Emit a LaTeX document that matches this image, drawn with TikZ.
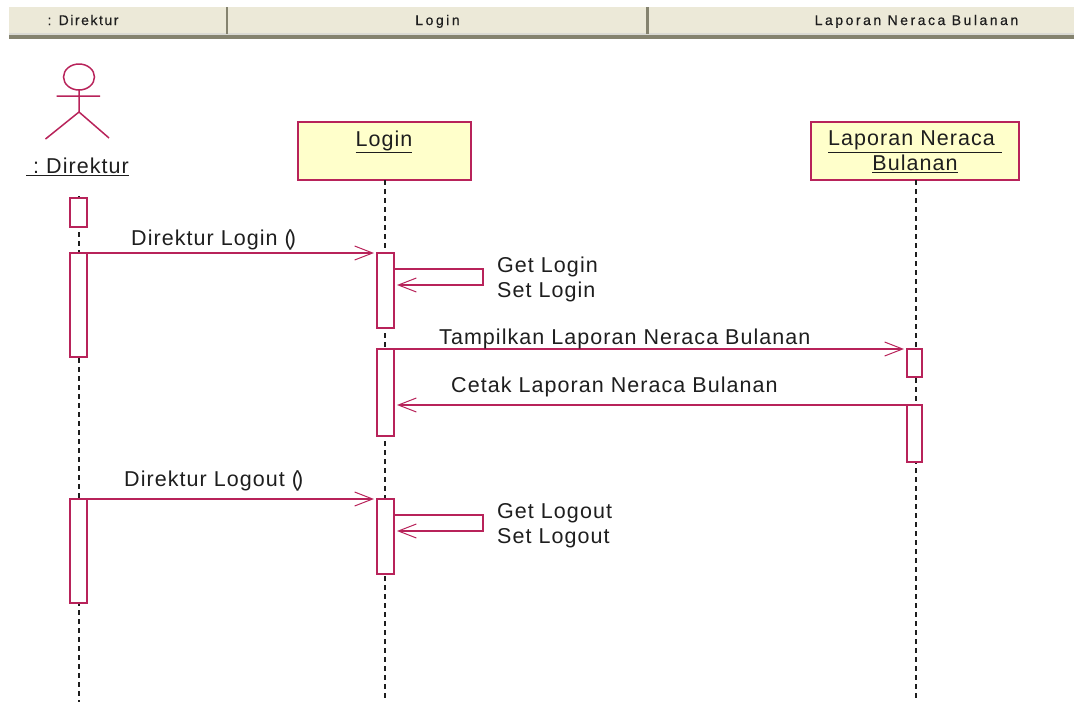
\documentclass[tikz,border=0pt]{standalone}
\usepackage{fontspec}
\setmainfont{Liberation Sans}
\newfontfamily\hdrfont[LetterSpace=18,FakeBold=0.4]{Liberation Sans}
\newfontfamily\hdrfontb[LetterSpace=11,FakeBold=0.4]{Liberation Sans}
\newfontfamily\lblfont[LetterSpace=4.9]{Liberation Sans}
\usetikzlibrary{arrows.meta}
\definecolor{umlred}{HTML}{B8235A}
\definecolor{umlyellow}{HTML}{FFFFCB}
\definecolor{hdrbg}{HTML}{ECE9D8}
\definecolor{hdrdark}{HTML}{85836F}
\definecolor{inkc}{HTML}{1E1E1E}
\tikzset{
  x=1pt,y=-1pt,
  hdrcell/.style={fill=hdrbg,draw=none,minimum height=27pt,inner sep=0pt,anchor=north west},
  hdrtext/.style={font=\hdrfont\fontsize{14}{16}\selectfont,text=inkc,inner sep=0pt,anchor=base},
  hdrtextb/.style={font=\hdrfontb\fontsize{14}{16}\selectfont,text=inkc,inner sep=0pt,anchor=base},
  objbox/.style={draw=umlred,fill=umlyellow,line width=2pt,inner sep=0pt,outer sep=0pt,minimum height=58pt,anchor=north west},
  objtext/.style={font=\lblfont\fontsize{21.5}{25}\selectfont,text=inkc,inner sep=0pt,align=center,anchor=base},
  lbl/.style={font=\lblfont\fontsize{21.5}{24}\selectfont,text=inkc,inner sep=0pt,anchor=base west},
  bar/.style={draw=umlred,fill=white,line width=2pt,inner sep=0pt,outer sep=0pt,anchor=north west},
  life/.style={draw=inkc,line width=1.6pt,dash pattern=on 4.5pt off 4.5pt},
  msg/.style={draw=umlred,line width=1.5pt,-{Straight Barb[length=18pt,width=14pt,line width=1pt]}},
  plain/.style={draw=umlred,line width=1.5pt},
}
\begin{document}
\begin{tikzpicture}
\useasboundingbox (0,0) rectangle (1074,702);
% header
\node[hdrcell,minimum width=217pt] (h1) at (9,7) {};
\node[hdrcell,minimum width=419pt] (h2) at (228,7) {};
\node[hdrcell,minimum width=425pt] (h3) at (649,7) {};
\fill[hdrdark] (9,34) rectangle (1074,39);
\fill[white!70!hdrdark] (9,33) rectangle (1074,34.5);
\fill[hdrdark] (225.5,7) rectangle (228,34);
\fill[hdrdark] (646,7) rectangle (649,34);
\node[hdrtextb] (ht1) at (83,25) {: Direktur};
\node[hdrtext] (ht2) at (437.5,25) {Login};
\node[hdrtext] (ht3) at (916.5,25) {Laporan Neraca Bulanan};
% lifelines
\coordinate (e1) at (79,702);
\coordinate (e2) at (385,702);
\coordinate (e3) at (916,702);
\coordinate (s1) at (79,196);
\node[objbox,minimum width=173pt] (login) at (298,122) {};
\node[objbox,minimum width=208pt] (lap) at (811,122) {};
\draw[life] (s1) -- (e1);
\draw[life] (login.south -| e2) -- (e2);
\draw[life] (lap.south -| e3) -- (e3);
\node[objtext] (logint) at (384,146) {\underline{Login}};
\node[objtext,anchor=north] (lapt) at (915,131) {\underline{Laporan Neraca\ }\\\underline{Bulanan}};
% actor
\draw[plain] (79,77) ellipse [x radius=15.5,y radius=13];
\coordinate (neck) at (79,90);
\coordinate (hip) at (79,112);
\coordinate (arml) at (56.5,96);
\coordinate (armr) at (100,96);
\coordinate (legl) at (45.5,139);
\coordinate (legr) at (109,138);
\draw[plain] (neck) -- (hip) (arml) -- (armr) (legl) -- (hip) -- (legr);
\node[lbl] (actor) at (26,173.5) {\underline{\ :\ Direktur}};
% bars
\node[bar,minimum width=17pt,minimum height=29pt] (a1) at (70,198) {};
\node[bar,minimum width=17pt,minimum height=104pt] (a2) at (70,253) {};
\node[bar,minimum width=17pt,minimum height=104pt] (a3) at (70,499) {};
\node[bar,minimum width=17pt,minimum height=75pt] (l1) at (377,253) {};
\node[bar,minimum width=17pt,minimum height=87pt] (l2) at (377,349) {};
\node[bar,minimum width=17pt,minimum height=75pt] (l3) at (377,499) {};
\node[bar,minimum width=15pt,minimum height=28pt] (r1) at (907,349) {};
\node[bar,minimum width=15pt,minimum height=57pt] (r2) at (907,405) {};
% messages
\draw[msg,shorten >=3pt] (a2.north east) -- (l1.north west);
\draw[msg,shorten >=3pt] (a3.north east) -- (l3.north west);
\draw[msg,shorten >=3pt] (l2.north east) -- (r1.north west);
\coordinate (cetak) at (394,405);
\draw[msg,shorten >=3pt] (r2.north west) -- (cetak);
\coordinate (s1a) at (394,269);
\coordinate (s1b) at (483,269);
\coordinate (s1c) at (483,285);
\coordinate (s1d) at (394,285);
\draw[msg,shorten >=3pt] (s1a) -- (s1b) -- (s1c) -- (s1d);
\coordinate (s2a) at (394,515);
\coordinate (s2b) at (483,515);
\coordinate (s2c) at (483,531);
\coordinate (s2d) at (394,531);
\draw[msg,shorten >=3pt] (s2a) -- (s2b) -- (s2c) -- (s2d);
% labels
\node[lbl] (m1) at (131,245) {Direktur Login (\kern-3pt)};
\node[lbl] (m2) at (497,272) {Get Login};
\node[lbl] (m3) at (497,297) {Set Login};
\node[lbl] (m4) at (439,344) {Tampilkan Laporan Neraca Bulanan};
\node[lbl] (m5) at (451,392) {Cetak Laporan Neraca Bulanan};
\node[lbl] (m6) at (124,486) {Direktur Logout (\kern-3pt)};
\node[lbl] (m7) at (497,518) {Get Logout};
\node[lbl] (m8) at (497,543) {Set Logout};
\end{tikzpicture}
\end{document}
